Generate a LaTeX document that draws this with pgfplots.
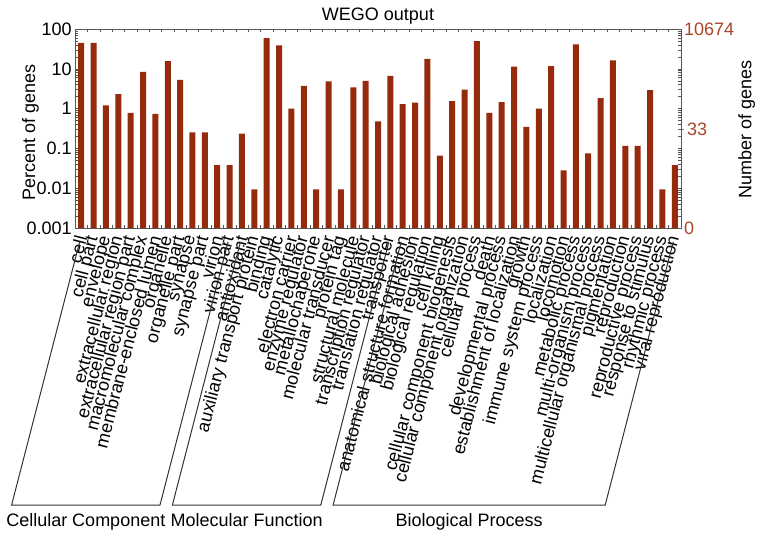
\documentclass[border=0pt]{standalone}
\usepackage{fontspec}
\setmainfont{Liberation Sans}
\usepackage{pgfplots}
\pgfplotsset{compat=1.18}
\usetikzlibrary{calc}
\definecolor{barc}{RGB}{150,42,12}
\definecolor{numc}{RGB}{168,70,38}
\definecolor{axc}{RGB}{85,85,85}
\newcommand{\lab}{\fontsize{9}{10}\selectfont}
\newlength\lwa
\newlength\lwb

\begin{document}
\begin{tikzpicture}
% page = 760x534 px, 1 px = 0.5pt
\begin{scope}[x=0.5pt,y=-0.5pt]
  \useasboundingbox (0,0) rectangle (760,534);
\end{scope}

\begin{axis}[
  at={(37.5pt,-114pt)}, anchor=south west,
  scale only axis, width=303pt, height=99.5pt,
  ymode=log, ymin=0.001, ymax=100, log origin=infty,
  xmin=0.5, xmax=49.5,
  axis line style={axc},
  tick align=inside,
  major tick length=0pt,
  minor tick length=1.5pt,
  minor xtick={1.5,2.5,...,48.5},
  minor tick style={axc},
  xtick={1,...,49},
  xticklabels={cell,cell part,envelope,extracellular region,extracellular region part,
    macromolecular complex,membrane-enclosed lumen,organelle,organelle part,synapse,
    synapse part,virion,virion part,antioxidant,auxiliary transport protein,binding,
    catalytic,electron carrier,enzyme regulator,metallochaperone,molecular transducer,
    protein tag,structural molecule,transcription regulator,translation regulator,
    transporter,anatomical structure formation,biological adhesion,biological regulation,
    cell killing,cellular component biogenesis,cellular component organization,
    cellular process,death,developmental process,establishment of localization,growth,
    immune system process,localization,locomotion,metabolic process,
    multi-organism process,multicellular organismal process,pigmentation,reproduction,
    reproductive process,response to stimulus,rhythmic process,viral reproduction},
  xticklabel style={font=\lab, yshift=-4pt, rotate=75.5, anchor=east, inner sep=0pt},
  ytick={0.001,0.01,0.1,1,10,100},
  yticklabels={0.001,0.01,0.1,1,10,100},
  yticklabel style={font=\lab, inner sep=1.5pt},
  ylabel={Percent of genes},
  ylabel style={font=\lab, at={(axis description cs:-0.066,0.48)}, anchor=base, inner sep=0pt},
  title={WEGO output},
  every axis title shift=0pt,
  title style={font=\lab, at={(axis description cs:0.5,1)}, anchor=base, yshift=4.5pt, inner sep=0pt},
]
\addplot[ybar, bar width=3pt, fill=barc, draw=none] coordinates {
  (1,45) (2,45) (3,1.21) (4,2.3) (5,0.78) (6,8.4) (7,0.74) (8,15.5) (9,5.3)
  (10,0.254) (11,0.254) (12,0.038) (13,0.038)
  (14,0.235) (15,0.0094) (16,58.7) (17,38.6) (18,1.0) (19,3.7) (20,0.0094)
  (21,4.85) (22,0.0094) (23,3.44) (24,5.0) (25,0.48) (26,6.6)
  (27,1.3) (28,1.41) (29,17.7) (30,0.066) (31,1.55) (32,3.0) (33,49.5)
  (34,0.78) (35,1.46) (36,11.4) (37,0.35) (38,1.0) (39,11.6) (40,0.028)
  (41,41) (42,0.075) (43,1.84) (44,16.4) (45,0.115) (46,0.115) (47,2.9)
  (48,0.0094) (49,0.038)
};
\end{axis}

\begin{axis}[
  at={(37.5pt,-114pt)}, anchor=south west,
  scale only axis, width=303pt, height=99.5pt,
  ymode=log, ymin=0.001, ymax=100,
  xmin=0.5, xmax=49.5,
  axis x line=none, axis y line*=right,
  axis line style={axc},
  tick align=outside, major tick length=1.5pt,
  ytick={0.3091}, yticklabels={33},
  extra y ticks={0.001,100}, extra y tick labels={0,10674},
  extra y tick style={major tick length=0pt},
  yticklabel style={font=\lab, text=numc, inner sep=1.3pt},
  ylabel={Number of genes},
  ylabel style={font=\lab, at={(axis description cs:1.116,0.497)}, anchor=base, inner sep=0pt},
]
\end{axis}

\begin{scope}[x=0.5pt,y=-0.5pt]
  \lab
  % Cellular Component: bars 1..13
  \settowidth\lwa{\lab cell}\settowidth\lwb{\lab virion part}
  \draw[black!80, line width=0.5pt]
    ($(81.18,236)+(255.5:{\lwa+3pt})$) -- (11.6,505) -- (160.0,505)
    -- ($(229.6,236)+(255.5:{\lwb+3pt})$);
  % Molecular Function: bars 14..26
  \settowidth\lwa{\lab antioxidant}\settowidth\lwb{\lab transporter}
  \draw[black!80, line width=0.5pt]
    ($(241.97,236)+(255.5:{\lwa+3pt})$) -- (172.4,505) -- (320.8,505)
    -- ($(390.4,236)+(255.5:{\lwb+3pt})$);
  % Biological Process: bars 27..49
  \settowidth\lwa{\lab anatomical structure formation}\settowidth\lwb{\lab viral reproduction}
  \draw[black!80, line width=0.5pt]
    ($(402.7,236)+(255.5:{\lwa+3pt})$) -- (333.1,505) -- (605.2,505)
    -- ($(674.8,236)+(255.5:{\lwb+3pt})$);
  \node[font=\lab, anchor=base, inner sep=0pt] at (85.8,526) {Cellular Component};
  \node[font=\lab, anchor=base, inner sep=0pt] at (246.6,526) {Molecular Function};
  \node[font=\lab, anchor=base, inner sep=0pt] at (469.1,526) {Biological Process};
\end{scope}
\end{tikzpicture}
\end{document}
